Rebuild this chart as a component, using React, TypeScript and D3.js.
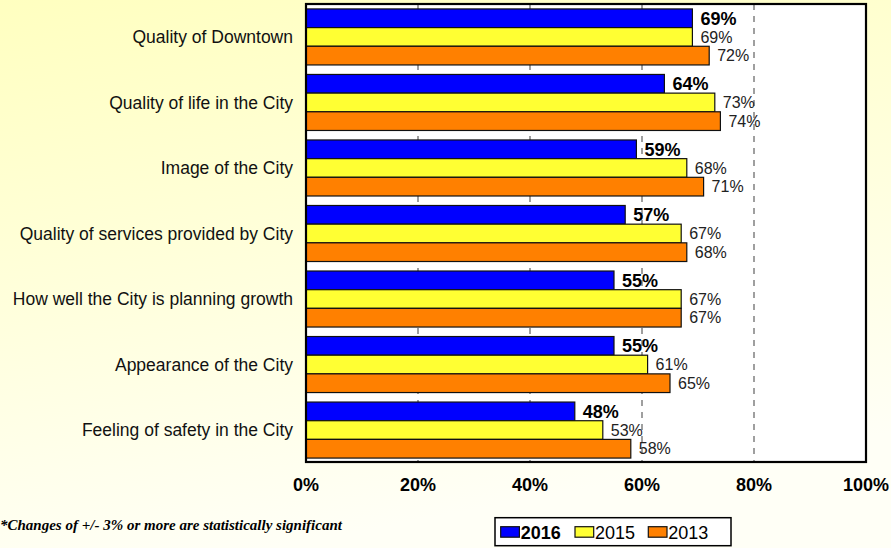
import React from "react";
import * as d3 from "d3";

const categories = [
  "Quality of Downtown",
  "Quality of life in the City",
  "Image of the City",
  "Quality of services provided by City",
  "How well the City is planning growth",
  "Appearance of the City",
  "Feeling of safety in the City",
];
const seriesNames = ["2016", "2015", "2013"];
const values2016 = [69, 64, 59, 57, 55, 55, 48];
const values2015 = [69, 73, 68, 67, 67, 61, 53];
const values2013 = [72, 74, 71, 68, 67, 65, 58];
const xTicks = [0, 20, 40, 60, 80, 100];
const gridTicks = [20, 40, 60, 80];
const footnote = "*Changes of +/- 3% or more are statistically significant";

const colors = ["#0000FF", "#FFFF33", "#FF8000"];

export default function App() {
  const W = 891;
  const H = 548;
  const left = 306;
  const right = 866;
  const top = 4;
  const bottom = 462;

  const series = [values2016, values2015, values2013];

  const x = d3.scaleLinear().domain([0, 100]).range([left, right]);
  const y = d3
    .scaleBand<string>()
    .domain(categories)
    .range([top + 1, bottom])
    .paddingInner(0.145)
    .paddingOuter(0.06);
  const inner = d3
    .scaleBand<string>()
    .domain(seriesNames)
    .range([0, y.bandwidth()]);

  const legendX = [500.7, 575, 648.3];

  return (
    <svg
      width={W}
      height={H}
      style={{ position: "absolute", left: 0, top: 0, display: "block" }}
      fontFamily="'Liberation Sans', Arial, sans-serif"
    >
      <defs>
        <linearGradient id="bg" x1="0" y1="0" x2="0.3" y2="1">
          <stop offset="0" stopColor="#FFFFC0" />
          <stop offset="1" stopColor="#FFFFF6" />
        </linearGradient>
      </defs>
      <rect x={0} y={0} width={W} height={H} fill="url(#bg)" />
      <rect x={left} y={top} width={right - left} height={bottom - top} fill="#FFFFFF" />

      {gridTicks.map((t) => (
        <line
          key={t}
          x1={x(t)}
          x2={x(t)}
          y1={top}
          y2={bottom}
          stroke="#808080"
          strokeWidth={1.5}
          strokeDasharray="6,6"
        />
      ))}

      {categories.map((c, i) => (
        <g key={c}>
          {seriesNames.map((s, j) => {
            const v = series[j][i];
            const by = (y(c) as number) + (inner(s) as number);
            const bh = inner.bandwidth();
            return (
              <g key={s}>
                <rect
                  x={x(0)}
                  y={by}
                  width={x(v) - x(0)}
                  height={bh}
                  fill={colors[j]}
                  stroke="#111"
                  strokeWidth={1.2}
                />
                <text
                  x={x(v) + 8}
                  y={by + bh / 2}
                  dy="0.36em"
                  fontSize={j === 0 ? 18 : 16}
                  fontWeight={j === 0 ? "bold" : "normal"}
                  fill={j === 0 ? "#000" : "#222"}
                >
                  {v}%
                </text>
              </g>
            );
          })}
          <text
            x={293}
            y={(y(c) as number) + y.bandwidth() / 2}
            dy="0.36em"
            textAnchor="end"
            fontSize={17.5}
            fill="#111"
          >
            {c}
          </text>
        </g>
      ))}

      <rect
        x={left}
        y={top}
        width={right - left}
        height={bottom - top}
        fill="none"
        stroke="#000"
        strokeWidth={2.2}
      />

      {xTicks.map((t) => (
        <text
          key={t}
          x={x(t)}
          y={491}
          textAnchor="middle"
          fontSize={18}
          fontWeight="bold"
          fill="#000"
        >
          {t}%
        </text>
      ))}

      <text
        x={0}
        y={530}
        fontFamily="'Liberation Serif', 'Times New Roman', serif"
        fontStyle="italic"
        fontWeight="bold"
        fontSize={15}
        fill="#000"
      >
        {footnote}
      </text>

      <rect x={495} y={517.7} width={236} height={28} fill="#FFFFFF" stroke="#000" strokeWidth={1.5} />
      {seriesNames.map((s, j) => (
        <g key={s}>
          <rect
            x={legendX[j]}
            y={526.7}
            width={18.7}
            height={10.5}
            fill={colors[j]}
            stroke="#111"
            strokeWidth={1.2}
          />
          <text
            x={legendX[j] + 20}
            y={538.5}
            fontSize={18}
            fontWeight={j === 0 ? "bold" : "normal"}
            fill="#000"
          >
            {s}
          </text>
        </g>
      ))}
    </svg>
  );
}
